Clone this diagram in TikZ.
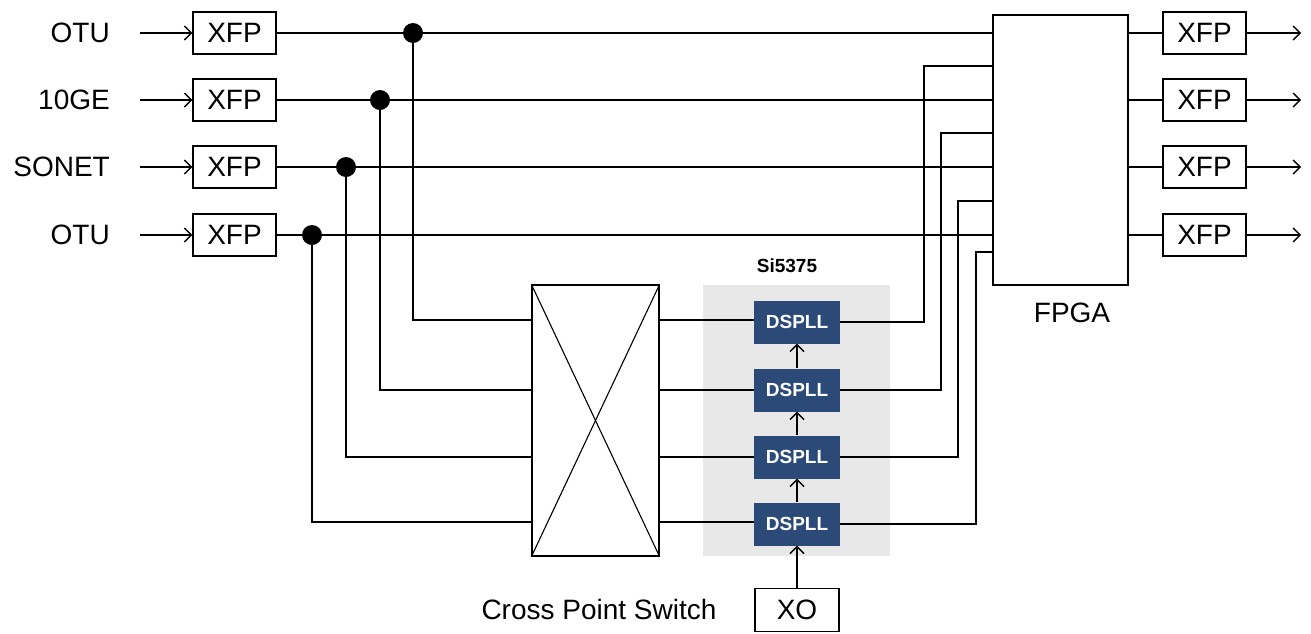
\documentclass[tikz,border=0pt]{standalone}
\usepackage{fontspec}
\setmainfont{Liberation Sans}
\usetikzlibrary{arrows.meta}
\definecolor{dsblue}{HTML}{2B4A78}
\definecolor{sigray}{HTML}{E8E8E8}
\tikzset{
  wire/.style={line width=1.4pt},
  thinwire/.style={line width=1.1pt},
  arr/.style={line width=1.4pt,-{Straight Barb[length=7pt,width=14pt,line width=1.4pt]}},
  xfpbox/.style={draw,line width=1.4pt,minimum width=83pt,minimum height=42pt,inner sep=0pt,font=\fontsize{28}{32}\selectfont},
  lbl/.style={font=\fontsize{28}{32}\selectfont,inner sep=0pt},
  dsbox/.style={fill=dsblue,text=white,minimum width=86pt,minimum height=43pt,inner sep=0pt,font=\fontsize{19}{22}\selectfont\bfseries},
  jdot/.style={circle,fill=black,minimum size=20pt,inner sep=0pt},
}
\begin{document}
\begin{tikzpicture}[x=1pt,y=-1pt]
\useasboundingbox (0,0) rectangle (1311,633);
% shaded Si5375 area
\fill[sigray] (703,285) rectangle (890,556);
\node[lbl,font=\fontsize{19}{22}\selectfont\bfseries] (si) at (787,266) {Si5375};
% input labels
\node[lbl,anchor=east] (l1) at (110,33) {OTU};
\node[lbl,anchor=east] (l2) at (110,100) {10GE};
\node[lbl,anchor=east] (l3) at (110,167) {SONET};
\node[lbl,anchor=east] (l4) at (110,235) {OTU};
% input XFPs
\foreach \i/\y in {1/33,2/100,3/167,4/235}{
  \node[xfpbox] (xin\i) at (234.5,\y) {XFP};
  \coordinate (ain\i) at (140,\y);
  \draw[arr] (ain\i) -- (xin\i.west);
}
% FPGA
\node[draw,line width=1.4pt,minimum width=135pt,minimum height=270pt,inner sep=0pt] (fpga) at (1060.5,150) {};
\node[lbl] (fpgalbl) at (1072,313) {FPGA};
% output XFPs
\foreach \i/\y in {1/33,2/100,3/167,4/235}{
  \node[xfpbox] (xout\i) at (1204.5,\y) {XFP};
  \coordinate (aout\i) at (1301,\y);
  \draw[wire] (fpga.east |- xout\i) -- (xout\i.west);
  \draw[arr] (xout\i.east) -- (aout\i);
  \draw[wire] (xin\i.east) -- (fpga.west |- xin\i);
}
% cross point switch
\node[draw,line width=1.1pt,minimum width=127pt,minimum height=271pt,inner sep=0pt] (cps) at (595.5,420.5) {};
\draw[thinwire] (cps.north west) -- (cps.south east);
\draw[thinwire] (cps.south west) -- (cps.north east);
\node[lbl] (cpslbl) at (599,609) {Cross Point Switch};
% DSPLLs
\node[dsbox] (ds1) at (797,322) {DSPLL};
\node[dsbox] (ds2) at (797,390) {DSPLL};
\node[dsbox] (ds3) at (797,457) {DSPLL};
\node[dsbox] (ds4) at (797,524) {DSPLL};
\node[xfpbox,minimum width=84pt,minimum height=43pt] (xo) at (797,610) {XO};
\draw[arr] (xo.north) -- (ds4.south);
\draw[arr] (ds4.north) -- (ds3.south);
\draw[arr] (ds3.north) -- (ds2.south);
\draw[arr] (ds2.north) -- (ds1.south);
% junction dots and taps
\node[jdot] (d1) at (413,33) {};
\node[jdot] (d2) at (380,100) {};
\node[jdot] (d3) at (346,167) {};
\node[jdot] (d4) at (312,235) {};
\foreach \i/\y in {1/320,2/390,3/457,4/522}{
  \draw[thinwire] (d\i.center) |- (cps.west |- 0,\y);
  \draw[thinwire] (cps.east |- 0,\y) -- (ds\i.west |- 0,\y);
}
% DSPLL outputs to FPGA
\foreach \i/\x/\y in {1/924/66,2/941/133,3/958/201,4/976/252}{
  \draw[wire] (ds\i.east) -| (\x,\y) -- (fpga.west |- 0,\y);
}
\end{tikzpicture}
\end{document}
